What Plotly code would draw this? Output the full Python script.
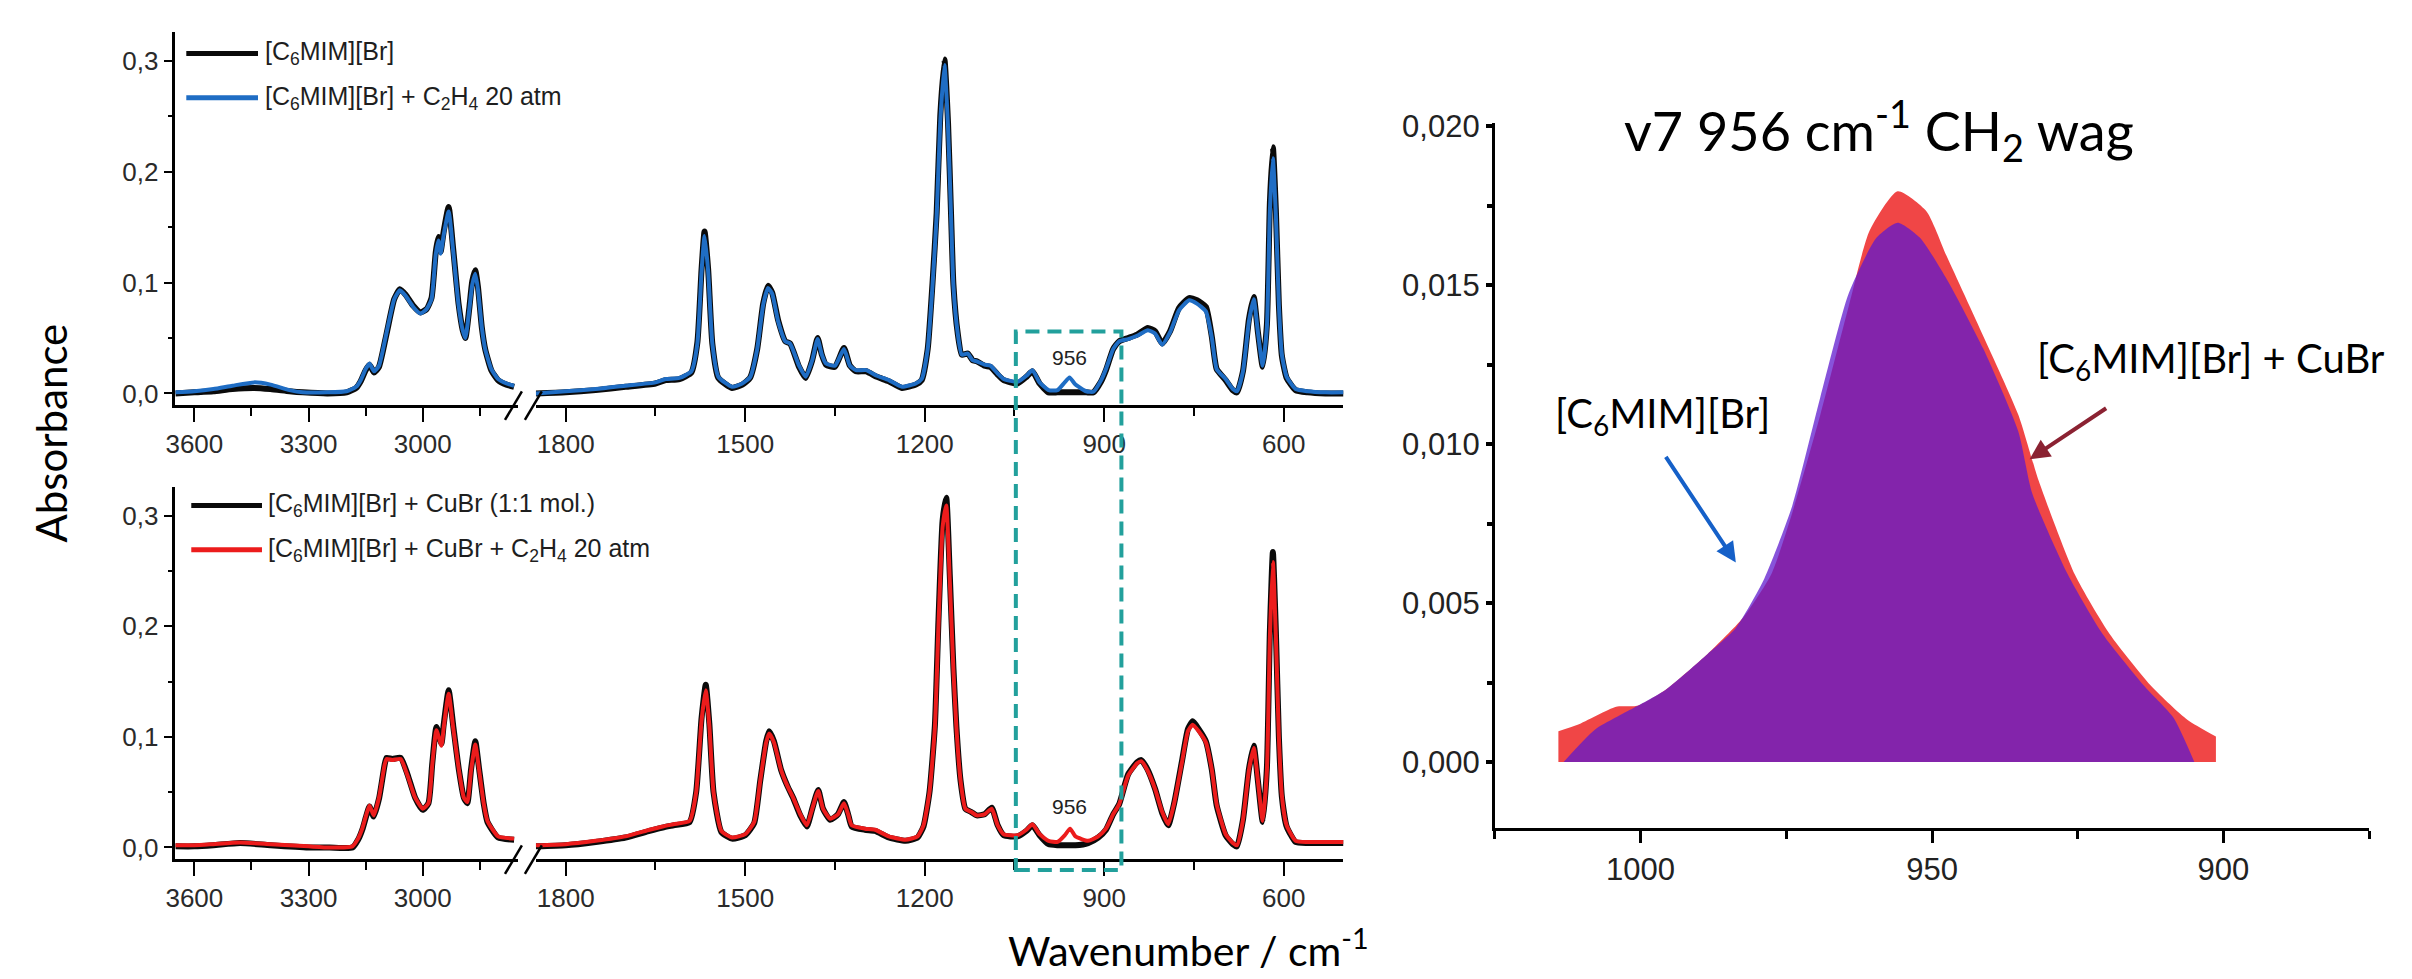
import plotly.graph_objects as go

W, H = 2412, 979


def px(x):
    return x / W


def py(y):
    return 1 - y / H


# ---------------- data: upper panel ([C6MIM][Br] and + C2H4) ----------------
wn_hi_top = [3650, 3600, 3550, 3500, 3443, 3400, 3350, 3315, 3250, 3200, 3175, 3163, 3150, 3140, 3128,
             3115, 3095, 3075, 3060, 3045, 3025, 3006, 2990, 2977, 2966, 2959, 2953, 2945, 2932, 2920,
             2906, 2895, 2888, 2878, 2870, 2862, 2855, 2845, 2836, 2820, 2802, 2780, 2760]
blue_hi = [0.001, 0.002, 0.004, 0.007, 0.010, 0.008, 0.003, 0.001, 0.001, 0.002, 0.006, 0.012, 0.022, 0.027,
           0.020, 0.025, 0.055, 0.085, 0.093, 0.088, 0.078, 0.072, 0.076, 0.085, 0.125, 0.138, 0.126, 0.143,
           0.164, 0.128, 0.080, 0.057, 0.050, 0.075, 0.098, 0.108, 0.094, 0.060, 0.040, 0.022, 0.013, 0.009,
           0.007]
black_hi = [0.000, 0.001, 0.002, 0.004, 0.005, 0.004, 0.002, 0.001, 0.000, 0.001, 0.005, 0.011, 0.021, 0.026,
            0.019, 0.024, 0.054, 0.085, 0.094, 0.089, 0.079, 0.073, 0.076, 0.086, 0.127, 0.141, 0.128, 0.146,
            0.168, 0.130, 0.081, 0.057, 0.050, 0.076, 0.101, 0.111, 0.096, 0.060, 0.040, 0.021, 0.012, 0.008,
            0.006]

wn_lo_top = [1850, 1800, 1750, 1700, 1650, 1633, 1610, 1590, 1580, 1573, 1568, 1562, 1555, 1545, 1522, 1505,
             1492, 1480, 1470, 1462, 1455, 1445, 1433, 1425, 1410, 1399, 1388, 1379, 1372, 1365, 1350, 1335,
             1325, 1315, 1298, 1280, 1260, 1238, 1215, 1205, 1195, 1187, 1180, 1174, 1167, 1161, 1156, 1152,
             1145, 1138, 1128, 1120, 1113, 1100, 1090, 1078, 1068, 1045, 1030, 1020, 1008, 993, 978, 966, 958,
             948, 930, 918, 905, 897, 885, 875, 860, 845, 827, 815, 803, 790, 775, 758, 745, 730, 720, 712, 697,
             685, 678, 668, 658, 650, 643, 635, 628, 623, 618, 613, 608, 603, 595, 580, 560, 530, 500]
blue_lo = [0.000, 0.002, 0.004, 0.007, 0.010, 0.013, 0.014, 0.020, 0.045, 0.110, 0.142, 0.110, 0.045, 0.015,
           0.006, 0.009, 0.0145, 0.040, 0.080, 0.095, 0.090, 0.065, 0.047, 0.045, 0.025, 0.015, 0.030, 0.049,
           0.035, 0.027, 0.025, 0.040, 0.025, 0.021, 0.021, 0.016, 0.012, 0.006, 0.009, 0.013, 0.040, 0.097,
           0.160, 0.245, 0.296, 0.240, 0.160, 0.097, 0.055, 0.035, 0.036, 0.030, 0.029, 0.026, 0.025, 0.018,
           0.013, 0.0105, 0.016, 0.021, 0.010, 0.003, 0.003, 0.010, 0.0145, 0.008, 0.002, 0.0015, 0.012, 0.022,
           0.040, 0.047, 0.049, 0.052, 0.057, 0.054, 0.044, 0.055, 0.075, 0.084, 0.081, 0.074, 0.050, 0.022,
           0.013, 0.004, 0.002, 0.020, 0.065, 0.085, 0.055, 0.025, 0.060, 0.165, 0.212, 0.160, 0.080, 0.035,
           0.015, 0.004, 0.002, 0.001, 0.001]
black_lo = [0.000, 0.001, 0.003, 0.006, 0.009, 0.012, 0.013, 0.019, 0.046, 0.112, 0.146, 0.112, 0.045, 0.014,
            0.005, 0.008, 0.014, 0.040, 0.081, 0.097, 0.091, 0.066, 0.047, 0.045, 0.024, 0.014, 0.030, 0.050,
            0.035, 0.026, 0.024, 0.041, 0.025, 0.020, 0.020, 0.015, 0.011, 0.005, 0.008, 0.012, 0.040, 0.099,
            0.163, 0.250, 0.301, 0.244, 0.162, 0.098, 0.055, 0.035, 0.036, 0.030, 0.029, 0.025, 0.024, 0.017,
            0.012, 0.009, 0.015, 0.020, 0.009, 0.001, 0.001, 0.001, 0.001, 0.001, 0.001, 0.001, 0.011, 0.021,
            0.040, 0.047, 0.050, 0.053, 0.059, 0.056, 0.045, 0.056, 0.077, 0.086, 0.084, 0.078, 0.051, 0.022,
            0.012, 0.003, 0.001, 0.020, 0.067, 0.087, 0.055, 0.024, 0.062, 0.172, 0.222, 0.165, 0.080, 0.034,
            0.014, 0.003, 0.001, 0.000, 0.000]

# ---------------- data: lower panel (+ CuBr and + CuBr + C2H4) ----------------
wn_hi_bot = [3650, 3600, 3550, 3480, 3400, 3300, 3245, 3185, 3170, 3158, 3148, 3140, 3129, 3115, 3100, 3095,
             3080, 3058, 3040, 3020, 3000, 2985, 2975, 2964, 2951, 2945, 2932, 2920, 2905, 2892, 2883, 2873,
             2862, 2852, 2840, 2830, 2802, 2760]
red_hi = [0.002, 0.002, 0.003, 0.0045, 0.003, 0.001, 0.000, 0.001, 0.008, 0.018, 0.030, 0.038, 0.029, 0.045,
          0.075, 0.080, 0.079, 0.080, 0.065, 0.045, 0.035, 0.040, 0.075, 0.106, 0.092, 0.108, 0.139, 0.108, 0.070,
          0.045, 0.041, 0.070, 0.093, 0.070, 0.040, 0.024, 0.010, 0.008]
blackcu_hi = [0.001, 0.001, 0.002, 0.004, 0.002, 0.000, 0.000, 0.000, 0.007, 0.017, 0.029, 0.037, 0.028, 0.044,
              0.075, 0.081, 0.080, 0.081, 0.066, 0.045, 0.034, 0.040, 0.076, 0.109, 0.094, 0.111, 0.142, 0.110,
              0.070, 0.045, 0.040, 0.071, 0.096, 0.071, 0.040, 0.023, 0.009, 0.007]

wn_lo_bot = [1850, 1800, 1750, 1700, 1660, 1638, 1620, 1593, 1582, 1573, 1566, 1560, 1553, 1540, 1522, 1500,
             1485, 1475, 1465, 1460, 1452, 1440, 1429, 1420, 1408, 1397, 1388, 1378, 1370, 1358, 1345, 1335,
             1328, 1322, 1300, 1283, 1260, 1232, 1212, 1202, 1192, 1183, 1177, 1170, 1164, 1158, 1152, 1147,
             1140, 1132, 1122, 1113, 1100, 1088, 1078, 1068, 1045, 1030, 1020, 1008, 993, 978, 966, 957, 948,
             927, 910, 897, 885, 875, 860, 845, 838, 828, 815, 803, 793, 783, 770, 760, 752, 742, 730, 720, 712,
             697, 685, 678, 668, 658, 650, 643, 635, 628, 623, 618, 613, 608, 603, 595, 580, 560, 530, 500]
red_lo = [0.002, 0.003, 0.006, 0.010, 0.016, 0.019, 0.021, 0.024, 0.050, 0.115, 0.142, 0.110, 0.050, 0.015,
          0.009, 0.012, 0.023, 0.060, 0.095, 0.103, 0.095, 0.070, 0.055, 0.045, 0.030, 0.020, 0.035, 0.051, 0.035,
          0.026, 0.030, 0.040, 0.030, 0.020, 0.017, 0.016, 0.010, 0.007, 0.010, 0.020, 0.050, 0.108, 0.200, 0.290,
          0.309, 0.240, 0.160, 0.108, 0.060, 0.035, 0.032, 0.029, 0.030, 0.035, 0.020, 0.012, 0.011, 0.016, 0.021,
          0.012, 0.006, 0.005, 0.011, 0.017, 0.010, 0.006, 0.010, 0.017, 0.030, 0.039, 0.065, 0.076, 0.078, 0.070,
          0.053, 0.032, 0.021, 0.040, 0.077, 0.105, 0.111, 0.105, 0.095, 0.070, 0.039, 0.012, 0.004, 0.002, 0.025,
          0.070, 0.090, 0.060, 0.024, 0.070, 0.190, 0.258, 0.190, 0.100, 0.047, 0.020, 0.006, 0.005, 0.005, 0.005]
blackcu_lo = [0.001, 0.002, 0.005, 0.009, 0.015, 0.018, 0.020, 0.023, 0.050, 0.117, 0.147, 0.112, 0.050, 0.014,
              0.008, 0.011, 0.022, 0.060, 0.096, 0.105, 0.096, 0.070, 0.055, 0.045, 0.029, 0.019, 0.035, 0.052,
              0.035, 0.025, 0.030, 0.041, 0.030, 0.019, 0.016, 0.015, 0.009, 0.006, 0.009, 0.019, 0.050, 0.110,
              0.205, 0.296, 0.316, 0.245, 0.162, 0.109, 0.060, 0.035, 0.032, 0.029, 0.030, 0.036, 0.020, 0.011,
              0.010, 0.015, 0.020, 0.011, 0.003, 0.002, 0.002, 0.002, 0.002, 0.004, 0.009, 0.016, 0.030, 0.039,
              0.066, 0.077, 0.079, 0.071, 0.053, 0.031, 0.020, 0.040, 0.078, 0.107, 0.114, 0.107, 0.096, 0.070,
              0.038, 0.011, 0.003, 0.001, 0.025, 0.071, 0.092, 0.060, 0.023, 0.072, 0.196, 0.267, 0.195, 0.100,
              0.046, 0.019, 0.005, 0.004, 0.004, 0.004]

# ---------------- data: zoom of the 956 cm-1 band ----------------
wn_zoom_cubr = [1014.1, 1010.8, 1004.2, 1000.6, 995.8, 988.5, 982.5, 977.6, 974.0, 969.2, 964.3, 960.7, 955.9,
                951.0, 947.4, 941.2, 935.2, 931.7, 925.5, 919.5, 912.2, 906.2, 901.3]
abs_zoom_cubr = [0.00097, 0.00117, 0.00174, 0.00177, 0.00226, 0.0034, 0.00452, 0.0059, 0.00783, 0.0109,
                 0.01433, 0.01672, 0.01796, 0.01734, 0.01588, 0.0134, 0.01093, 0.00885, 0.0059, 0.00402,
                 0.00235, 0.00133, 0.0008]
wn_zoom_il = [1013.2, 1007.8, 1001.8, 995.8, 988.5, 983.7, 978.8, 974.0, 969.2, 964.3, 959.5, 955.9, 952.1,
              947.4, 941.2, 935.2, 932.8, 926.7, 920.7, 913.4, 908.6, 905.0]
abs_zoom_il = [0.0, 0.00102, 0.00164, 0.00226, 0.0034, 0.00421, 0.00576, 0.00805, 0.01145, 0.01474, 0.0165,
               0.01697, 0.0165, 0.01517, 0.0130, 0.0104, 0.00845, 0.0059, 0.00402, 0.00235, 0.0014, 0.0]

# ---------------- tick labels ----------------
hi_ticks = [3600, 3300, 3000]
hi_ticks_text = ["3600", "3300", "3000"]
hi_minor = [3450, 3150, 2850]
lo_ticks = [1800, 1500, 1200, 900, 600]
lo_ticks_text = ["1800", "1500", "1200", "900", "600"]
lo_minor = [1650, 1350, 1050, 750]
abs_ticks = [0.0, 0.1, 0.2, 0.3]
abs_ticks_text = ["0,0", "0,1", "0,2", "0,3"]
abs_minor = [0.05, 0.15, 0.25]
zoom_xticks = [1000, 950, 900]
zoom_xticks_text = ["1000", "950", "900"]
zoom_xminor = [1025, 975, 925, 875]
zoom_yticks = [0.0, 0.005, 0.010, 0.015, 0.020]
zoom_yticks_text = ["0,000", "0,005", "0,010", "0,015", "0,020"]
zoom_yminor = [0.0025, 0.0075, 0.0125, 0.0175]

BLUE = "#1f6dc4"
RED = "#ec1c1c"
BLACK = "#0a0a0a"
TEAL = "#22a09c"
TICKFONT = dict(family="Liberation Sans, Arial, sans-serif", size=26, color="#2a2a2a")
CAL = "Lato, Open Sans, sans-serif"

fig = go.Figure()


def spec(x, y, color, width, xa, ya, name):
    fig.add_trace(go.Scatter(x=x, y=y, mode="lines", name=name, showlegend=False,
                             line=dict(color=color, width=width, shape="spline", smoothing=0.5),
                             xaxis=xa, yaxis=ya, hoverinfo="skip"))


spec(wn_hi_top, black_hi, BLACK, 6, "x", "y", "[C6MIM][Br]")
spec(wn_hi_top, blue_hi, BLUE, 4, "x", "y", "[C6MIM][Br] + C2H4 20 atm")
spec(wn_lo_top, black_lo, BLACK, 6, "x2", "y2", "[C6MIM][Br]")
spec(wn_lo_top, blue_lo, BLUE, 4, "x2", "y2", "[C6MIM][Br] + C2H4 20 atm")
spec(wn_hi_bot, blackcu_hi, BLACK, 6, "x3", "y3", "[C6MIM][Br] + CuBr (1:1 mol.)")
spec(wn_hi_bot, red_hi, RED, 4, "x3", "y3", "[C6MIM][Br] + CuBr + C2H4 20 atm")
spec(wn_lo_bot, blackcu_lo, BLACK, 6, "x4", "y4", "[C6MIM][Br] + CuBr (1:1 mol.)")
spec(wn_lo_bot, red_lo, RED, 4, "x4", "y4", "[C6MIM][Br] + CuBr + C2H4 20 atm")

fig.add_trace(go.Scatter(x=wn_zoom_cubr, y=abs_zoom_cubr, mode="lines", fill="tozeroy",
                         fillcolor="#f04646", line=dict(width=0, shape="spline", smoothing=0.6),
                         xaxis="x5", yaxis="y5", showlegend=False, hoverinfo="skip"))
fig.add_trace(go.Scatter(x=wn_zoom_il, y=abs_zoom_il, mode="lines", fill="tozeroy",
                         fillcolor="rgba(95,25,205,0.75)", line=dict(width=0, shape="spline", smoothing=0.6),
                         xaxis="x5", yaxis="y5", showlegend=False, hoverinfo="skip"))


def xax(dom, rng, anchor, tv, tt, mv):
    return dict(domain=[px(dom[0]), px(dom[1])], range=rng, anchor=anchor, showline=True,
                linecolor="black", linewidth=2.5, ticks="outside", ticklen=14, tickwidth=2,
                tickcolor="black", tickmode="array", tickvals=tv, ticktext=tt, tickfont=TICKFONT,
                minor=dict(tickmode="array", tickvals=mv, ticks="outside", ticklen=8, tickwidth=2,
                           tickcolor="black"),
                showgrid=False, zeroline=False, fixedrange=True)


def yax(dom, anchor, visible=True):
    return dict(domain=[py(dom[1]), py(dom[0])], range=[-0.0106, 0.326], anchor=anchor, visible=visible,
                showline=True, linecolor="black", linewidth=2.5, ticks="outside", ticklen=9, tickwidth=2,
                tickcolor="black", tickmode="array", tickvals=abs_ticks, ticktext=abs_ticks_text,
                tickfont=TICKFONT,
                minor=dict(tickmode="array", tickvals=abs_minor, ticks="outside", ticklen=5, tickwidth=2,
                           tickcolor="black"),
                showgrid=False, zeroline=False, fixedrange=True)


ZTICK = dict(family="Liberation Sans, Arial, sans-serif", size=31, color="#222")

fig.update_layout(
    width=W, height=H, margin=dict(l=0, r=0, t=0, b=0), paper_bgcolor="white", plot_bgcolor="white",
    showlegend=False,
    xaxis=xax((158, 502), [3650, 2750], "y", hi_ticks, hi_ticks_text, hi_minor),
    yaxis=yax((10, 390), "x"),
    xaxis2=xax((520, 1331), [1850, 500], "y2", lo_ticks, lo_ticks_text, lo_minor),
    yaxis2=yax((10, 390), "x2", visible=False),
    xaxis3=xax((158, 502), [3650, 2750], "y3", hi_ticks, hi_ticks_text, hi_minor),
    yaxis3=yax((473, 852), "x3"),
    xaxis4=xax((520, 1331), [1850, 500], "y4", lo_ticks, lo_ticks_text, lo_minor),
    yaxis4=yax((473, 852), "x4", visible=False),
    xaxis5=dict(domain=[px(1483), px(2361)], range=[1025, 875], anchor="y5", showline=True,
                linecolor="black", linewidth=3, ticks="outside", ticklen=12, tickwidth=3, tickcolor="black",
                tickmode="array", tickvals=zoom_xticks, ticktext=zoom_xticks_text, tickfont=ZTICK,
                minor=dict(tickmode="array", tickvals=zoom_xminor, ticks="outside", ticklen=8, tickwidth=3,
                           tickcolor="black"),
                showgrid=False, zeroline=False, fixedrange=True),
    yaxis5=dict(domain=[py(820), py(103)], range=[-0.00207, 0.0201], anchor="x5", showline=True,
                linecolor="black", linewidth=3, ticks="outside", ticklen=6, tickwidth=4, tickcolor="black",
                tickmode="array", tickvals=zoom_yticks, ticktext=zoom_yticks_text, tickfont=ZTICK,
                minor=dict(tickmode="array", tickvals=zoom_yminor, ticks="outside", ticklen=5, tickwidth=4,
                           tickcolor="black"),
                showgrid=False, zeroline=False, fixedrange=True),
)

shapes = []
# axis breaks
for yax_px in (390, 852):
    for x0, x1 in ((489, 506), (509, 526)):
        shapes.append(dict(type="line", xref="paper", yref="paper", x0=px(x0), x1=px(x1),
                           y0=py(yax_px + 15), y1=py(yax_px - 14), line=dict(color="black", width=2.5)))
# legend samples
for (y, c) in ((32, BLACK), (77, BLUE)):
    shapes.append(dict(type="line", xref="paper", yref="paper", x0=px(169), x1=px(241), y0=py(y), y1=py(y),
                       line=dict(color=c, width=5)))
for (y, c) in ((492, BLACK), (537, RED)):
    shapes.append(dict(type="line", xref="paper", yref="paper", x0=px(174), x1=px(245), y0=py(y), y1=py(y),
                       line=dict(color=c, width=5)))
# dashed highlight box
shapes.append(dict(type="rect", xref="paper", yref="paper", x0=px(1002), x1=px(1108), y0=py(863), y1=py(315),
                   line=dict(color=TEAL, width=4, dash="14px,8px"), fillcolor="rgba(0,0,0,0)"))
fig.update_layout(shapes=shapes)

LEG = dict(family="Liberation Sans, Arial, sans-serif", size=25, color="#1e1e1e")
ann = []


def text(x, y, s, font, xanchor="left", **kw):
    ann.append(dict(xref="paper", yref="paper", x=px(x), y=py(y), text=s, showarrow=False, font=font,
                    xanchor=xanchor, yanchor="middle", **kw))


text(246, 32, "[C<sub>6</sub>MIM][Br]", LEG)
text(246, 77, "[C<sub>6</sub>MIM][Br] + C<sub>2</sub>H<sub>4</sub> 20 atm", LEG)
text(249, 492, "[C<sub>6</sub>MIM][Br] + CuBr (1:1 mol.)", LEG)
text(249, 537, "[C<sub>6</sub>MIM][Br] + CuBr + C<sub>2</sub>H<sub>4</sub> 20 atm", LEG)
text(1056, 341, "956", dict(family="Liberation Sans, Arial, sans-serif", size=21, color="#222"), "center")
text(1056, 798, "956", dict(family="Liberation Sans, Arial, sans-serif", size=21, color="#222"), "center")
text(33, 418, "Absorbance", dict(family=CAL, size=42, color="black"), "center", textangle=-90)
text(1175, 942, "Wavenumber / cm<sup>-1</sup>", dict(family=CAL, size=41, color="black"), "center")
text(1869, 110, "v7 956 cm<sup>-1</sup> CH<sub>2</sub> wag", dict(family=CAL, size=54, color="black"), "center")
text(1651, 400, "[C<sub>6</sub>MIM][Br]", dict(family=CAL, size=40, color="black"), "center")
text(2202, 344, "[C<sub>6</sub>MIM][Br] + CuBr", dict(family=CAL, size=40, color="black"), "center")

ann.append(dict(xref="paper", yref="paper", x=px(1725), y=py(550), ax=-71, ay=-107, axref="pixel",
                ayref="pixel", text="", showarrow=True, arrowhead=2, arrowsize=1, arrowwidth=4,
                arrowcolor="#1560c8"))
ann.append(dict(xref="paper", yref="paper", x=px(2020), y=py(445), ax=78, ay=-52, axref="pixel",
                ayref="pixel", text="", showarrow=True, arrowhead=2, arrowsize=1, arrowwidth=4,
                arrowcolor="#8b2232"))
fig.update_layout(annotations=ann)

fig.write_html("out.html")
